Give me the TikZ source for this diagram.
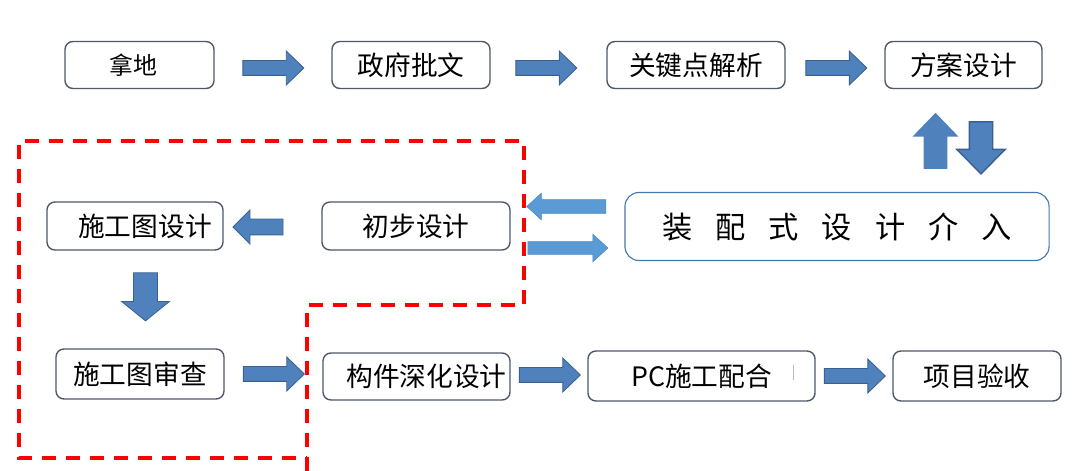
\documentclass[tikz,border=0pt]{standalone}
\usepackage{fontspec}
\setmainfont{Noto Sans CJK SC}
\usepackage{xcolor}
\usetikzlibrary{shapes.arrows}

\definecolor{boxline}{RGB}{78,88,104}
\definecolor{bigline}{RGB}{70,120,170}
\definecolor{arrowfill}{RGB}{79,129,189}
\definecolor{arrowline}{RGB}{58,97,145}
\definecolor{lightfill}{RGB}{91,155,213}
\definecolor{lightline}{RGB}{76,136,196}
\definecolor{dashred}{RGB}{255,0,0}

\newcommand{\gap}{\hspace{0.575cm}}

\begin{document}
\begin{tikzpicture}[
    x=0.025cm, y=-0.025cm,
    stepbox/.style={draw=boxline, line width=1pt, rounded corners=0.2cm, fill=white,
        inner sep=0pt, minimum height=1.2cm, font=\fontsize{19pt}{19pt}\selectfont},
    bigbox/.style={draw=bigline, line width=0.8pt, rounded corners=0.35cm, fill=white,
        inner sep=0pt, font=\fontsize{21.5pt}{21.5pt}\selectfont},
    blockarrow/.style={single arrow, fill=arrowfill, draw=arrowline, line width=0.6pt,
        inner sep=0.175cm, single arrow head extend=0.2375cm,
        single arrow tip angle=88, minimum height=1.525cm},
    lightarrow/.style={single arrow, fill=lightfill, draw=lightline, line width=0.4pt,
        inner sep=0.1625cm, single arrow head extend=0.1625cm,
        single arrow tip angle=85, minimum height=1.975cm},
    reddash/.style={draw=dashred, line width=2.2pt, dash pattern=on 0.35cm off 0.25cm}
]
    \useasboundingbox (0,0) rectangle (1080,471);

    % red dashed outline
    \draw[reddash] (307,471) -- (307,305) -- (524,305) -- (524,141) -- (19,141)
        -- (19,458) -- (307,458);

    % top row
    \node[stepbox, minimum width=3.725cm, minimum height=1.175cm,
        font=\fontsize{17pt}{17pt}\selectfont] (nadi) at (139.5,65) {\hspace{-0.3cm}拿地};
    \node[stepbox, minimum width=3.95cm, minimum height=1.175cm] (piwen) at (411,65) {政府批文};
    \node[stepbox, minimum width=4.45cm, minimum height=1.175cm] (guanjian) at (696,65) {关键点解析};
    \node[stepbox, minimum width=3.925cm, minimum height=1.175cm] (fangan) at (963.5,65) {方案设计};

    \node[blockarrow] (a1) at (269.5,68) {};
    \node[blockarrow] (a2) at (542.5,68) {};
    \node[blockarrow] (a3) at (832.5,68) {};

    % middle row
    \node[stepbox, minimum width=4.4cm] (shigongtu) at (135,226) {\hspace{0.5cm}施工图设计};
    \node[stepbox, minimum width=4.7cm] (chubu) at (416,226) {初步设计};
    \node[bigbox, minimum width=10.6cm, minimum height=1.7cm] (zhuangpei) at (837,226.5)
        {装\gap 配\gap 式\gap 设\gap 计\gap 介\gap 入\hspace{0.9cm}};

    \node[blockarrow, rotate=180, inner sep=0.1875cm, single arrow head extend=0.225cm,
        single arrow tip angle=90, minimum height=1.25cm] (a4) at (262,227) {};
    \node[blockarrow, rotate=-90, inner sep=0.2875cm, single arrow head extend=0.3cm,
        single arrow tip angle=102, minimum height=1.2cm] (a5) at (145.5,292) {};

    \node[lightarrow, rotate=180] (b1) at (570,206.5) {};
    \node[lightarrow, inner sep=0.15cm, single arrow head extend=0.1875cm,
        minimum height=2cm] (b2) at (564.5,248) {};

    \node[blockarrow, rotate=90, draw=none, inner sep=0.2875cm, single arrow head extend=0.275cm,
        single arrow tip angle=88, minimum height=1.4cm] (up) at (935.5,147) {};
    \node[blockarrow, rotate=-90, line width=1pt, inner sep=0.275cm, single arrow head extend=0.3125cm,
        single arrow tip angle=89, minimum height=1.3cm] (down) at (981,142) {};

    % bottom row
    \node[stepbox, minimum width=4.2cm, minimum height=1.25cm] (shencha) at (140,374) {施工图审查};
    \node[stepbox, minimum width=4.675cm, minimum height=1.175cm] (goujian) at (416.5,376.5) {\hspace{0.5cm}构件深化设计};
    \node[stepbox, minimum width=5.675cm, minimum height=1.25cm] (pc) at (701.5,376) {PC施工配合};
    \node[stepbox, minimum width=4.2cm, minimum height=1.25cm] (yanshou) at (977,376) {项目验收};
    \draw[gray!55, line width=0.6pt] (793,365) -- (793,380);

    \node[blockarrow] (a6) at (270,374) {};
    \node[blockarrow] (a7) at (546,375) {};
    \node[blockarrow] (a8) at (851,376) {};
\end{tikzpicture}
\end{document}
